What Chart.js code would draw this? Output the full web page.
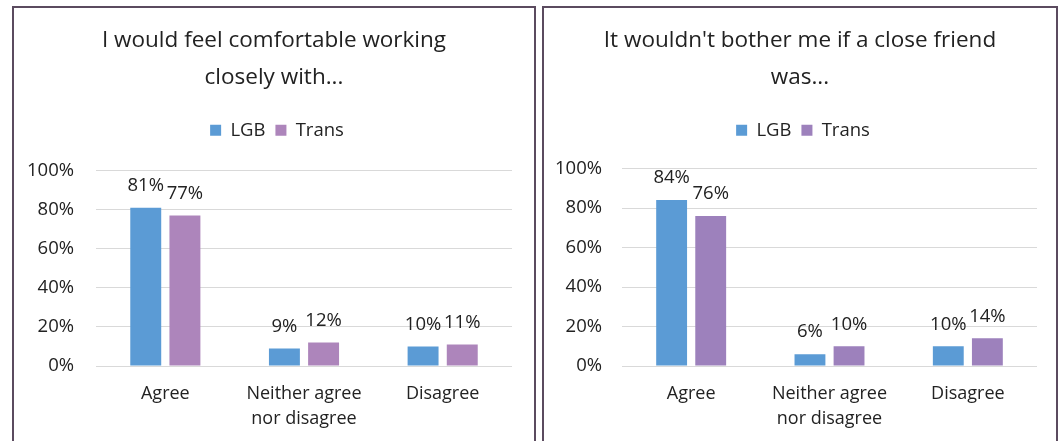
<!DOCTYPE html>
<html><head><meta charset="utf-8">
<script src="https://cdn.jsdelivr.net/npm/chart.js@4.4.1/dist/chart.umd.min.js"></script>
<style>
html,body{margin:0;padding:0;background:#fff;overflow:hidden;width:1061px;height:441px;}
.panel{position:absolute;top:6px;height:440px;border:2px solid #5b4b5f;border-bottom:none;background:#fff;}
#p1{left:12px;width:520px;}
#p2{left:542px;width:512px;}
.wrap{position:relative;height:433px;}
</style></head><body>
<div class="panel" id="p1"><div class="wrap"><canvas id="c1"></canvas></div></div>
<div class="panel" id="p2"><div class="wrap"><canvas id="c2"></canvas></div></div>
<script>
// ---- data ----
const categories = ['Agree', ['Neither agree', 'nor disagree'], 'Disagree'];
const seriesNames = ['LGB', 'Trans'];
const yTickValues = [0, 20, 40, 60, 80, 100];

const title1 = ['I would feel comfortable working', 'closely with...'];
const lgb1 = [81, 9, 10];
const trans1 = [77, 12, 11];

const title2 = ["It wouldn't bother me if a close friend", 'was...'];
const lgb2 = [84, 6, 10];
const trans2 = [76, 10, 14];

// ---- styling ----
const FONT = '"Open Sans", "Noto Sans", sans-serif';
const TEXT = '#222222';
const BLUE = '#5B9BD5';

const valueLabels = {
  id: 'valueLabels',
  afterDatasetsDraw(chart) {
    const ctx = chart.ctx;
    ctx.save();
    ctx.font = '18.5px ' + FONT;
    ctx.fillStyle = TEXT;
    ctx.textAlign = 'center';
    ctx.textBaseline = 'middle';
    chart.data.datasets.forEach((ds, di) => {
      const meta = chart.getDatasetMeta(di);
      meta.data.forEach((el, i) => {
        ctx.fillText(ds.data[i] + '%', el.x, el.y - 22);
      });
    });
    ctx.restore();
  }
};

// extra space under legend, and center title/legend on the whole panel
function headerLayout(gap, legendShift) {
  return {
    id: 'headerLayout',
    beforeInit(chart) {
      const lg = chart.legend;
      if (!lg) return;
      const f = lg.fit;
      lg.fit = function () { f.call(this); this.height += gap; };
    },
    afterLayout(chart) {
      const t = chart.titleBlock;
      if (t) { t.left = 0; t.right = chart.width; t.width = chart.width; }
      const lg = chart.legend;
      if (lg) { lg.left = legendShift; lg.right = chart.width + legendShift; lg.width = chart.width; }
    }
  };
}

function makeChart(id, titleLines, lgb, trans, transColor, L) {
  return new Chart(document.getElementById(id), {
    type: 'bar',
    data: {
      labels: categories,
      datasets: [
        { label: seriesNames[0], data: lgb, backgroundColor: BLUE },
        { label: seriesNames[1], data: trans, backgroundColor: transColor }
      ]
    },
    options: {
      responsive: true,
      maintainAspectRatio: false,
      animation: false,
      devicePixelRatio: 1,
      categoryPercentage: 0.565,
      barPercentage: 0.79,
      layout: { padding: { left: 0, right: L.padRight, top: 0, bottom: 0 } },
      plugins: {
        title: {
          display: true,
          text: titleLines,
          color: TEXT,
          font: { family: FONT, size: 22.5, weight: 'normal', lineHeight: 37 / 22.5 },
          padding: { top: 14, bottom: 15 }
        },
        legend: {
          display: true,
          position: 'top',
          labels: {
            color: TEXT,
            font: { family: FONT, size: 18.5 },
            boxWidth: 11, boxHeight: 11,
            padding: 10
          }
        },
        tooltip: { enabled: false }
      },
      scales: {
        x: {
          grid: { display: false, drawTicks: false },
          border: { display: false },
          ticks: { color: TEXT, font: { family: FONT, size: 18, lineHeight: 1.35 }, padding: 16, maxRotation: 0, autoSkip: false },
          afterFit(s) { s.height = 75; }
        },
        y: {
          min: 0, max: 100,
          afterBuildTicks(s) { s.ticks = yTickValues.map(v => ({ value: v })); },
          grid: { color: '#d9d9d9', lineWidth: 1, drawTicks: false },
          border: { display: false },
          ticks: { color: TEXT, font: { family: FONT, size: 18.5 }, padding: L.tickPad, callback: v => v + '%' },
          afterFit(s) { s.width = L.yWidth; }
        }
      }
    },
    plugins: [valueLabels, headerLayout(L.gap, 3)]
  });
}

makeChart('c1', title1, lgb1, trans1, '#AD85BB', { padRight: 22, yWidth: 82, tickPad: 22, gap: 21 });
makeChart('c2', title2, lgb2, trans2, '#9D81BC', { padRight: 19, yWidth: 78, tickPad: 20, gap: 19 });
</script>
</body></html>
